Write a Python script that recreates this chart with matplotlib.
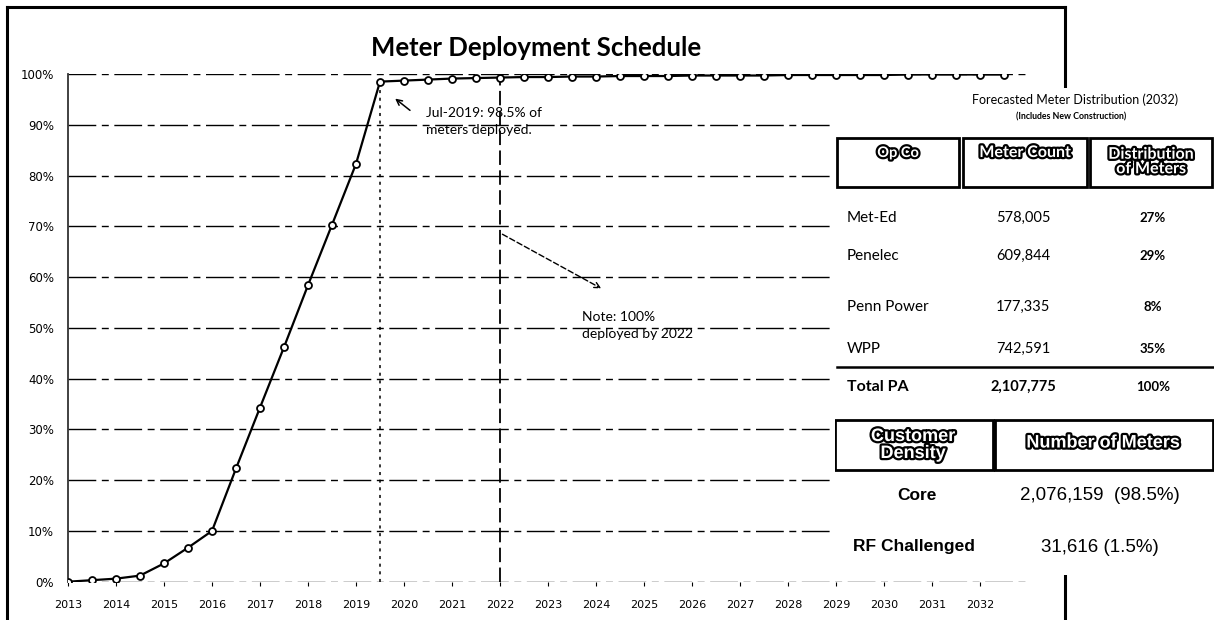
import matplotlib
matplotlib.use("Agg")
import matplotlib.pyplot as plt
import matplotlib.patheffects as pe
from matplotlib.patches import Rectangle
from matplotlib.lines import Line2D

# deployment schedule, half-year steps
periods = [2013.0, 2013.5, 2014.0, 2014.5, 2015.0, 2015.5, 2016.0, 2016.5,
           2017.0, 2017.5, 2018.0, 2018.5, 2019.0, 2019.5, 2020.0, 2020.5,
           2021.0, 2021.5, 2022.0, 2022.5, 2023.0, 2023.5, 2024.0, 2024.5,
           2025.0, 2025.5, 2026.0, 2026.5, 2027.0, 2027.5, 2028.0, 2028.5,
           2029.0, 2029.5, 2030.0, 2030.5, 2031.0, 2031.5, 2032.0, 2032.5]
deployed_pct = [0.0, 0.3, 0.6, 1.2, 3.6, 6.7, 10.0, 22.3,
                34.3, 46.2, 58.4, 70.3, 82.3, 98.5, 98.7, 98.9,
                99.1, 99.2, 99.3, 99.4, 99.4, 99.5, 99.5, 99.6,
                99.6, 99.6, 99.7, 99.7, 99.7, 99.7, 99.8, 99.8,
                99.8, 99.8, 99.8, 99.9, 99.9, 99.9, 99.9, 99.9]
year_ticks = list(range(2013, 2033))
pct_ticks = [0, 10, 20, 30, 40, 50, 60, 70, 80, 90, 100]

# forecast table (2032)
opco = ["Met-Ed", "Penelec", "Penn Power", "WPP"]
meter_count = ["578,005", "609,844", "177,335", "742,591"]
distribution = ["27%", "29%", "8%", "35%"]
total_row = ["Total PA", "2,107,775", "100%"]

density = ["Core", "RF Challenged"]
density_meters = ["2,076,159  (98.5%)", "31,616 (1.5%)"]

W, H = 1214, 620
fig = plt.figure(figsize=(W / 100, H / 100), dpi=100)

# ---- main chart ----
ax = fig.add_axes([68 / W, (H - 581.7) / H, 960 / W, 507.7 / H])
ax.plot(periods, deployed_pct, color="black", lw=1.6, marker="o", ms=5,
        mfc="white", mec="black", mew=1.3, zorder=4)
ax.set_xlim(2013, 2033)
ax.set_ylim(0, 100)
ax.set_xticks(year_ticks)
ax.set_xticklabels([str(y) for y in year_ticks])
ax.set_yticks(pct_ticks)
ax.set_yticklabels([f"{p}%" for p in pct_ticks])
ax.tick_params(axis="x", length=3, width=0.8, pad=10, labelsize=8, direction="out")
ax.tick_params(axis="y", length=0, pad=10, labelsize=8.5)
for lab in ax.get_xticklabels() + ax.get_yticklabels():
  lab.set_fontfamily("DejaVu Sans")
for s in ["top", "right", "bottom"]:
  ax.spines[s].set_visible(False)
ax.spines["left"].set_color("#333333")
ax.spines["left"].set_linewidth(1.3)
ax.grid(True, axis="y", color="black", lw=1.0, linestyle=(0, (20, 4, 5, 4)))
ax.set_axisbelow(True)

# vertical markers at Jul-2019 and 2022
jul19 = periods[13]
ax.vlines(jul19, 0, deployed_pct[13], colors="black", lw=1.1,
          linestyles=(0, (2, 3)), zorder=3)
ax.vlines(2022, 0, 100, colors="black", lw=1.3, linestyles=(0, (8, 3)), zorder=3)

ax.set_title("Meter Deployment Schedule", fontfamily="Lato", fontweight="bold",
             fontsize=18.5, pad=13, x=0.4875)

ax.annotate("", xy=(2019.77, 95.5), xytext=(2020.17, 92.5),
            arrowprops=dict(arrowstyle="->", lw=1.1, color="black"))
ax.text(2020.45, 90.6, "Jul-2019: 98.5% of\nmeters deployed.", fontfamily="Lato",
        fontsize=10, va="center", ha="left", linespacing=1.5)
ax.annotate("", xy=(2024.16, 57.5), xytext=(2022.0, 68.7),
            arrowprops=dict(arrowstyle="->", lw=1.0, color="black",
                            linestyle=(0, (4, 2))))
ax.text(2023.7, 50.4, "Note: 100%\ndeployed by 2022", fontfamily="Lato",
        fontsize=10, va="center", ha="left", linespacing=1.5)

# outer frame of the pasted chart
frame = dict(color="black", lw=2.2, zorder=1, transform=fig.transFigure)
fig.add_artist(Line2D([7 / W, 7 / W], [0, 1 - 7 / H], **frame))
fig.add_artist(Line2D([7 / W, 1065 / W], [1 - 7 / H, 1 - 7 / H], **frame))
fig.add_artist(Line2D([1065 / W, 1065 / W], [0, 1 - 7 / H], **frame))

# ---- table overlay (pixel coordinates of the panel) ----
tb = fig.add_axes([835 / W, (H - 575) / H, 379 / W, 487 / H], zorder=2)
tb.set_xlim(835, 1214)
tb.set_ylim(575, 88)
tb.set_facecolor("white")
for s in tb.spines.values():
  s.set_visible(False)
tb.set_xticks([])
tb.set_yticks([])

outline = [pe.withStroke(linewidth=3.2, foreground="black")]

def header(x, y, txt, size=10.5, family="Lato", ls=1.15):
  tb.text(x, y, txt, ha="center", va="center", color="white", fontsize=size,
          fontweight="bold", fontfamily=family, path_effects=outline,
          linespacing=ls)

def box(x0, y0, x1, y1):
  tb.add_patch(Rectangle((x0, y0), x1 - x0, y1 - y0, fill=False,
                         ec="black", lw=2.0))

tb.text(1075, 100, "Forecasted Meter Distribution (2032)", ha="center",
        va="center", fontfamily="Lato", fontsize=9)
tb.text(1071, 117, "(Includes New Construction)", ha="center", va="center",
        fontfamily="Lato", fontsize=6.3, fontweight="bold")

box(837, 138, 959, 187)
box(963, 138, 1087, 187)
box(1090, 138, 1212, 187)
header(898, 153, "Op Co", size=10.5)
header(1025, 153, "Meter Count", size=11.5)
header(1151, 162, "Distribution\nof Meters", size=11.5, ls=1.05)

row_y = [218, 256, 307, 349]
for y, name, cnt, dist in zip(row_y, opco, meter_count, distribution):
  tb.text(847, y, name, ha="left", va="center", fontfamily="Lato", fontsize=11)
  tb.text(1023, y, cnt, ha="center", va="center", fontfamily="Lato", fontsize=10.5)
  tb.text(1153, y, dist, ha="center", va="center", fontfamily="Lato",
          fontsize=9.5, fontweight="bold")
tb.plot([837, 1214], [367, 367], color="black", lw=1.8)
tb.text(847, 387, total_row[0], ha="left", va="center", fontfamily="Lato",
        fontsize=11.5, fontweight="bold")
tb.text(1023, 387, total_row[1], ha="center", va="center", fontfamily="Lato",
        fontsize=10.5, fontweight="bold")
tb.text(1153, 387, total_row[2], ha="center", va="center", fontfamily="Lato",
        fontsize=9.5, fontweight="bold")

box(835, 420, 993, 470)
box(995, 420, 1213, 470)
header(913, 445, "Customer\nDensity", size=13, family="Liberation Sans", ls=1.0)
header(1103, 443, "Number of Meters", size=13, family="Liberation Sans")

for y, name, val in zip([495, 547], density, density_meters):
  cx = 917 if name == "Core" else 914
  tb.text(cx, y, name, ha="center", va="center", fontfamily="Liberation Sans",
          fontsize=12.5, fontweight="bold")
  tb.text(1100, y, val, ha="center", va="center", fontfamily="Liberation Sans",
          fontsize=13.5)

fig.savefig("out.png", dpi=100, facecolor="white")
